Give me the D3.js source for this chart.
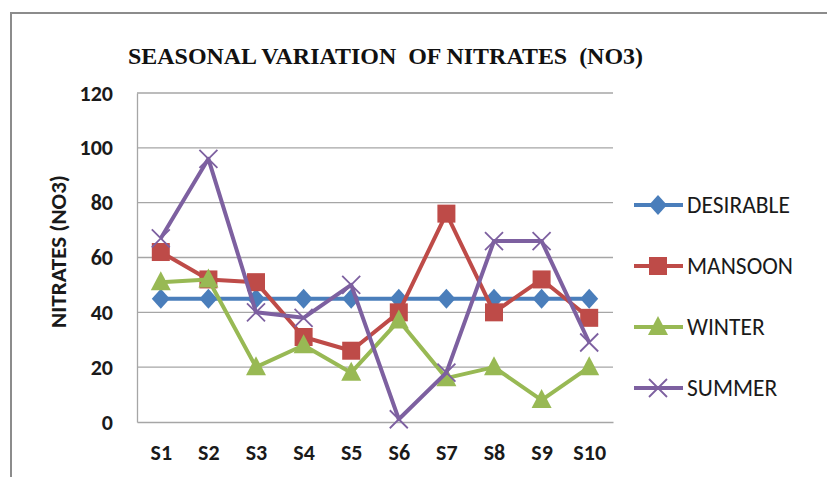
<!DOCTYPE html>
<html>
<head>
<meta charset="utf-8">
<script src="https://cdn.jsdelivr.net/npm/d3@7"></script>
<style>
  html, body { margin: 0; padding: 0; background: #fff; }
  svg { display: block; }
</style>
</head>
<body>
<div id="chart"></div>
<script>
// Data
const categories = ['S1', 'S2', 'S3', 'S4', 'S5', 'S6', 'S7', 'S8', 'S9', 'S10'];
const desirable = [45, 45, 45, 45, 45, 45, 45, 45, 45, 45];
const mansoon = [62, 52, 51, 31, 26, 40, 76, 40, 52, 38];
const winter = [51, 52, 20, 28, 18, 37, 16, 20, 8, 20];
const summer = [67, 96, 40, 38, 50, 1, 18, 66, 66, 29];
const yTicks = [0, 20, 40, 60, 80, 100, 120];

const series = [
  { name: 'DESIRABLE', values: desirable, color: '#4a7ebb', marker: 'diamond' },
  { name: 'MANSOON', values: mansoon, color: '#be4b48', marker: 'square' },
  { name: 'WINTER', values: winter, color: '#98b954', marker: 'triangle' },
  { name: 'SUMMER', values: summer, color: '#7d60a0', marker: 'cross' }
];

const W = 827, H = 477;
const plot = { left: 137, right: 613, top: 93, bottom: 422 };
const labelFont = 'Carlito, Calibri, Lato, "Open Sans", sans-serif';

const svg = d3.select('#chart').append('svg')
  .attr('width', W)
  .attr('height', H);

// outer frame
svg.append('path')
  .attr('d', `M11,${H + 5} V13 H${W + 5}`)
  .attr('fill', 'none')
  .attr('stroke', '#8c8c8c')
  .attr('stroke-width', 2);

// title
svg.append('text')
  .attr('x', 128)
  .attr('y', 64)
  .attr('font-family', '"Liberation Serif", "Times New Roman", serif')
  .attr('font-weight', 'bold')
  .attr('font-size', 24)
  .attr('textLength', 515)
  .attr('lengthAdjust', 'spacingAndGlyphs')
  .attr('fill', '#111')
  .style('white-space', 'pre')
  .text('SEASONAL VARIATION  OF NITRATES  (NO3)');

const x = d3.scalePoint()
  .domain(categories)
  .range([plot.left, plot.right])
  .padding(0.5);

const y = d3.scaleLinear()
  .domain([0, 120])
  .range([plot.bottom, plot.top]);

// gridlines
svg.append('g')
  .selectAll('line')
  .data(yTicks.filter(d => d > 0))
  .join('line')
  .attr('x1', plot.left)
  .attr('x2', plot.right)
  .attr('y1', d => y(d))
  .attr('y2', d => y(d))
  .attr('stroke', '#a6a6a6')
  .attr('stroke-width', 1.3);

// y axis
const yAxis = svg.append('g')
  .attr('transform', `translate(${plot.left},0)`)
  .call(d3.axisLeft(y).tickValues(yTicks).tickSize(0).tickPadding(24));
yAxis.select('.domain').attr('stroke', '#a6a6a6').attr('stroke-width', 1.3);
yAxis.selectAll('text')
  .attr('font-family', labelFont)
  .attr('font-weight', 'bold')
  .attr('font-size', 22)
  .attr('fill', '#1a1a1a');

// x axis
const xAxis = svg.append('g')
  .attr('transform', `translate(0,${plot.bottom})`)
  .call(d3.axisBottom(x).tickSize(0).tickPadding(22));
xAxis.select('.domain').attr('stroke', '#a6a6a6').attr('stroke-width', 1.3);
xAxis.selectAll('text')
  .attr('font-family', labelFont)
  .attr('font-weight', 'bold')
  .attr('font-size', 22)
  .attr('fill', '#1a1a1a');

// y axis title
svg.append('text')
  .attr('transform', `translate(66,${(plot.top + plot.bottom) / 2 - 6}) rotate(-90)`)
  .attr('text-anchor', 'middle')
  .attr('font-family', labelFont)
  .attr('font-weight', 'bold')
  .attr('font-size', 23)
  .attr('fill', '#1a1a1a')
  .text('NITRATES (NO3)');

function drawMarker(g, type, color) {
  if (type === 'diamond') {
    g.append('path').attr('d', 'M0,-10 L9,0 L0,10 L-9,0 Z').attr('fill', color);
  } else if (type === 'square') {
    g.append('rect').attr('x', -9).attr('y', -9).attr('width', 18).attr('height', 18).attr('fill', color);
  } else if (type === 'triangle') {
    g.append('path').attr('d', 'M0,-11 L10,8 L-10,8 Z').attr('fill', color);
  } else {
    g.append('path').attr('d', 'M-9,-9 L9,9 M-9,9 L9,-9')
      .attr('stroke', color).attr('stroke-width', 1.8).attr('fill', 'none');
  }
}

const line = d3.line()
  .x((d, i) => x(categories[i]))
  .y(d => y(d));

series.forEach(s => {
  const g = svg.append('g');
  g.append('path')
    .datum(s.values)
    .attr('d', line)
    .attr('fill', 'none')
    .attr('stroke', s.color)
    .attr('stroke-width', 4)
    .attr('stroke-linejoin', 'round');
  s.values.forEach((v, i) => {
    const m = g.append('g').attr('transform', `translate(${x(categories[i])},${y(v)})`);
    drawMarker(m, s.marker, s.color);
  });
});

// legend
const legend = svg.append('g');
series.forEach((s, i) => {
  const ly = 205 + i * 61;
  const g = legend.append('g').attr('transform', `translate(0,${ly})`);
  g.append('line')
    .attr('x1', 634).attr('x2', 683)
    .attr('stroke', s.color).attr('stroke-width', 4);
  const m = g.append('g').attr('transform', 'translate(658,0)');
  drawMarker(m, s.marker, s.color);
  g.append('text')
    .attr('x', 687)
    .attr('y', 0)
    .attr('dy', '0.36em')
    .attr('font-family', labelFont)
    .attr('font-size', 23.5)
    .attr('fill', '#1a1a1a')
    .text(s.name);
});
</script>
</body>
</html>
